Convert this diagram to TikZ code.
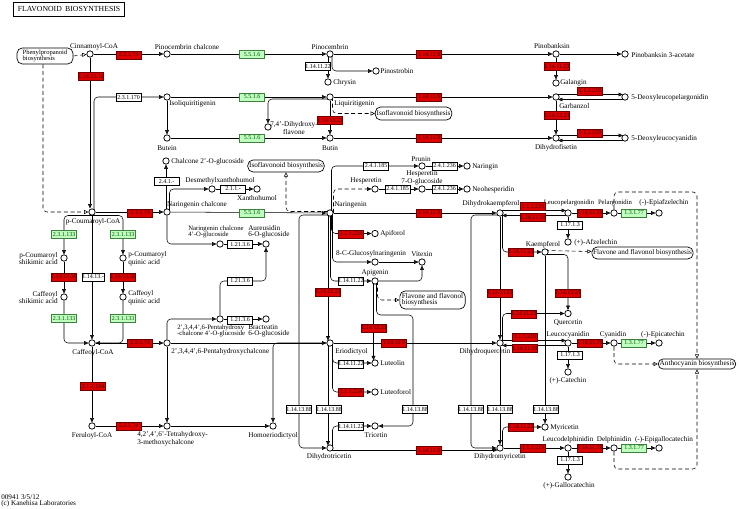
\documentclass[tikz,border=0pt]{standalone}
\usepackage{fontspec}
\setmainfont{Liberation Serif}
\usetikzlibrary{arrows.meta,calc,backgrounds}
\definecolor{kred}{RGB}{222,0,0}
\definecolor{kredd}{RGB}{110,0,0}
\definecolor{kredt}{RGB}{70,0,0}
\definecolor{kgreen}{RGB}{191,255,191}
\definecolor{kgreend}{RGB}{60,130,60}
\definecolor{kgreent}{RGB}{0,80,0}
\tikzset{
 cpd/.style={circle,draw,fill=white,minimum size=4.8pt,inner sep=0pt,line width=0.55pt},
 ec/.style={rectangle,draw,minimum width=18.5pt,minimum height=5.8pt,inner sep=0pt,font=\fontsize{4.5}{4.5}\selectfont,line width=0.45pt},
 ecr/.style={ec,fill=kred,draw=kredd,text=kredt},
 ecg/.style={ec,fill=kgreen,draw=kgreend,text=kgreent},
 ecw/.style={ec,fill=white},
 lbl/.style={inner sep=0pt,font=\fontsize{5.4}{4.6}\selectfont,align=center},
 sml/.style={font=\fontsize{5.0}{4.6}\selectfont},
 mapbox/.style={draw,rounded corners=4pt,fill=white,inner sep=1pt,font=\fontsize{5.4}{4.8}\selectfont,align=left,line width=0.5pt},
 arr/.style={-{Triangle[length=3.2pt,width=2.8pt]}},
 dsh/.style={dash pattern=on 3pt off 2pt},
 darr/.style={dsh,-{Triangle[open,length=3.2pt,width=3pt]}},
 rc/.style={rounded corners=3pt},
 conn/.style={line width=0.55pt,draw=black!85}
}
\begin{document}
\begin{tikzpicture}[x=0.75pt,y=-0.75pt]
\useasboundingbox (0,0) rectangle (739,509);
% title and footer
\node[draw,line width=0.6pt,inner sep=0pt,font=\fontsize{5.8}{5.8}\selectfont,minimum width=83pt,minimum height=11pt] (title) at (69,9.5) {FLAVONOID\hspace{2.5pt}BIOSYNTHESIS};
\node[lbl,anchor=north west,align=left] (foot) at (1,494) {00941 3/5/12\\(c) Kanehisa Laboratories};
% map boxes
\node[mapbox,minimum width=42pt,minimum height=12pt,font=\fontsize{4.9}{4.6}\selectfont] (phenyl) at (45,56) {Phenylpropanoid\\biosynthesis};
\node[mapbox,minimum width=56pt,minimum height=9.8pt] (iso1) at (413.5,113.5) {Isoflavonoid biosynthesis};
\node[mapbox,minimum width=57pt,minimum height=9pt] (iso2) at (286,166) {Isoflavonoid biosynthesis};
\node[mapbox,minimum width=49pt,minimum height=13.5pt] (flav1) at (432.5,300) {Flavone and flavonol\\biosynthesis};
\node[mapbox,minimum width=73pt,minimum height=9pt] (flav2) at (642.5,253) {Flavone and flavonol biosynthesis};
\node[mapbox,minimum width=58pt,minimum height=7.5pt,rounded corners=3.5pt] (antho) at (697,364) {Anthocyanin biosynthesis};
% compounds
\node[cpd] (cinn) at (90,54) {};
\node[cpd] (pinchal) at (167,54) {};
\node[cpd] (pinoc) at (330,54) {};
\node[cpd] (chrys) at (328,82) {};
\node[cpd] (pinost) at (376,71) {};
\node[cpd] (pinob) at (556,54) {};
\node[cpd] (pinoba) at (625,54) {};
\node[cpd] (galang) at (556,83) {};
\node[cpd] (isoliq) at (167,97) {};
\node[cpd] (liquir) at (330,97) {};
\node[cpd] (dihydroxyfl) at (268,127) {};
\node[cpd] (garb) at (556,97) {};
\node[cpd] (deoxyleucopel) at (625,97) {};
\node[cpd] (butein) at (167,138) {};
\node[cpd] (butin) at (330,138) {};
\node[cpd] (dihydrofis) at (556,138) {};
\node[cpd] (deoxyleucocy) at (625,138) {};
\node[cpd] (chalgluc) at (166,161) {};
\node[cpd] (prunin) at (422,166) {};
\node[cpd] (naringin) at (467,166) {};
\node[cpd] (desmeth) at (212,189) {};
\node[cpd] (xantho) at (257,189) {};
\node[cpd] (hesp) at (375,189) {};
\node[cpd] (hesp7) at (422,189) {};
\node[cpd] (neohesp) at (467,189) {};
\node[cpd] (pcoum) at (92,212) {};
\node[cpd] (narchal) at (167,212) {};
\node[cpd] (naring) at (330,213) {};
\node[cpd] (dhk) at (500,213) {};
\node[cpd] (leucopel) at (568,213) {};
\node[cpd] (pelarg) at (614,213) {};
\node[cpd] (epiafz) at (659,213) {};
\node[cpd] (afzel) at (568,242) {};
\node[cpd] (apiforol) at (375,233.5) {};
\node[cpd] (narchalglc) at (220,244) {};
\node[cpd] (aureus) at (266,244) {};
\node[cpd] (kaemp) at (545,252) {};
\node[cpd] (pcsa) at (64,258) {};
\node[cpd] (pcqa) at (123,258) {};
\node[cpd] (glucnar) at (375,262) {};
\node[cpd] (vitexin) at (422,262) {};
\node[cpd] (apigenin) at (375,281) {};
\node[cpd] (csa) at (64,297) {};
\node[cpd] (cqa) at (123,297) {};
\node[cpd] (quercetin) at (568,313.5) {};
\node[cpd] (pentagluc) at (220,319) {};
\node[cpd] (bract) at (266,319) {};
\node[cpd] (caffcoa) at (92,343) {};
\node[cpd] (penta) at (167,343) {};
\node[cpd] (eriod) at (330,343) {};
\node[cpd] (dhq) at (500,343) {};
\node[cpd] (leucocy) at (568,343) {};
\node[cpd] (cyan) at (614,343) {};
\node[cpd] (epicat) at (659,343) {};
\node[cpd] (luteolin) at (375,363) {};
\node[cpd] (catechin) at (568,372) {};
\node[cpd] (luteoforol) at (375,392) {};
\node[cpd] (ferul) at (92,426) {};
\node[cpd] (tetra) at (167,426) {};
\node[cpd] (homoer) at (273,426) {};
\node[cpd] (tricetin) at (375,426) {};
\node[cpd] (myric) at (545,427) {};
\node[cpd] (dht) at (330,448) {};
\node[cpd] (dhm) at (500,448) {};
\node[cpd] (leucodel) at (568,448) {};
\node[cpd] (delph) at (614,448) {};
\node[cpd] (epigallo) at (659,448) {};
\node[cpd] (gallocat) at (568,477) {};
% compound labels
\node[lbl] (lcinn) at (94,47) {Cinnamoyl-CoA};
\node[lbl] (lpinchal) at (187,47) {Pinocembrin chalcone};
\node[lbl] (lpinoc) at (330,47) {Pinocembrin};
\node[lbl,anchor=west] (lchrys) at (333,82.5) {Chrysin};
\node[lbl,anchor=west] (lpinost) at (380,71.5) {Pinostrobin};
\node[lbl] (lpinob) at (552,46.5) {Pinobanksin};
\node[lbl,anchor=west] (lpinoba) at (631,55) {Pinobanksin 3-acetate};
\node[lbl,anchor=west] (lgalang) at (560,82.5) {Galangin};
\node[lbl,anchor=west] (lisoliq) at (169,104) {Isoliquiritigenin};
\node[lbl,anchor=west] (lliquir) at (334,104) {Liquiritigenin};
\node[lbl] (ldihydroxyfl) at (294,128) {7,4'-Dihydroxy-\\flavone};
\node[lbl,anchor=west] (lgarb) at (559,106) {Garbanzol};
\node[lbl,anchor=west] (ldlp) at (631,97.5) {5-Deoxyleucopelargonidin};
\node[lbl] (lbutein) at (167,148) {Butein};
\node[lbl] (lbutin) at (330,148) {Butin};
\node[lbl] (ldihydrofis) at (556,148) {Dihydrofisetin};
\node[lbl,anchor=west] (ldlc) at (631,138.5) {5-Deoxyleucocyanidin};
\node[lbl,anchor=west] (lchalgluc) at (171,162) {Chalcone 2'-O-glucoside};
\node[lbl] (lprunin) at (421,159) {Prunin};
\node[lbl,anchor=west] (lnaringin) at (472,166.5) {Naringin};
\node[lbl] (ldesmeth) at (220,181) {Desmethylxanthohumol};
\node[lbl] (lxantho) at (257,198) {Xanthohumol};
\node[lbl] (lhesp) at (366,181) {Hesperetin};
\node[lbl] (lhesp7) at (422,177.5) {Hesperetin\\7-O-glucoside};
\node[lbl,anchor=west] (lneohesp) at (472,189.5) {Neohesperidin};
\node[lbl] (lpcoum) at (93,222) {p-Coumaroyl-CoA};
\node[lbl] (lnarchal) at (197,205) {Naringenin chalcone};
\node[lbl,anchor=west] (lnaring) at (334,204.5) {Naringenin};
\node[lbl] (ldhk) at (491,204) {Dihydrokaempferol};
\node[lbl,sml] (lleucopel) at (569,203) {Leucopelargonidin};
\node[lbl,sml] (lpelarg) at (615,203) {Pelargonidin};
\node[lbl] (lepiafz) at (664,203) {(-)-Epiafzelechin};
\node[lbl,anchor=west] (lafzel) at (574,242.5) {(+)-Afzelechin};
\node[lbl,anchor=west] (lapiforol) at (380,234) {Apiforol};
\node[lbl,sml,anchor=west,align=left] (lnarchalglc) at (188,232) {Naringenin chalcone\\4'-O-glucoside};
\node[lbl,anchor=west,align=left] (laureus) at (248,232) {Aureusidin\\6-O-glucoside};
\node[lbl] (lkaemp) at (543,245) {Kaempferol};
\node[lbl,anchor=east,align=right] (lpcsa) at (58,258.5) {p-Coumaroyl\\shikimic acid};
\node[lbl,anchor=west,align=left] (lpcqa) at (128,258.5) {p-Coumaroyl\\quinic acid};
\node[lbl] (lglucnar) at (371,254) {8-C-Glucosylnaringenin};
\node[lbl] (lvitexin) at (422,254) {Vitexin};
\node[lbl] (lapigenin) at (375,273) {Apigenin};
\node[lbl,anchor=east,align=right] (lcsa) at (58,297.5) {Caffeoyl\\shikimic acid};
\node[lbl,anchor=west,align=left] (lcqa) at (128,297.5) {Caffeoyl\\quinic acid};
\node[lbl] (lquercetin) at (568,322.5) {Quercetin};
\node[lbl,sml,anchor=west,align=left] (lpentagluc) at (177,331) {2',3,4,4',6-Pentahydroxy\\-chalcone 4'-O-glucoside};
\node[lbl,anchor=west,align=left] (lbract) at (248,331) {Bracteatin\\6-O-glucoside};
\node[lbl] (lcaffcoa) at (93,353) {Caffeoyl-CoA};
\node[lbl,anchor=west] (lpenta) at (171,352) {2',3,4,4',6-Pentahydroxychalcone};
\node[lbl,anchor=west] (leriod) at (335,352) {Eriodictyol};
\node[lbl] (ldhq) at (485,352) {Dihydroquercetin};
\node[lbl] (lleucocy) at (568,335) {Leucocyanidin};
\node[lbl] (lcyan) at (613,335) {Cyanidin};
\node[lbl] (lepicat) at (663,335) {(-)-Epicatechin};
\node[lbl,anchor=west] (lluteolin) at (380,363.5) {Luteolin};
\node[lbl] (lcatechin) at (568,381) {(+)-Catechin};
\node[lbl,anchor=west] (lluteoforol) at (380,392.5) {Luteoforol};
\node[lbl] (lferul) at (92,436) {Feruloyl-CoA};
\node[lbl,anchor=west,align=left] (ltetra) at (137,438.5) {4,2',4',6'-Tetrahydroxy-\\3-methoxychalcone};
\node[lbl] (lhomoer) at (273,435.5) {Homoeriodictyol};
\node[lbl] (ltricetin) at (376,435) {Tricetin};
\node[lbl,anchor=west] (lmyric) at (550,427.5) {Myricetin};
\node[lbl] (ldht) at (329,457) {Dihydrotricetin};
\node[lbl] (ldhm) at (500,457) {Dihydromyricetin};
\node[lbl] (lleucodel) at (568,440) {Leucodelphinidin};
\node[lbl] (ldelph) at (614,440) {Delphinidin};
\node[lbl] (lepigallo) at (664,440) {(-)-Epigallocatechin};
\node[lbl] (lgallocat) at (569,486) {(+)-Gallocatechin};
% enzymes
\node[ecr] (e1) at (128.5,55) {2.3.1.74};
\node[ecr] (e2) at (91,76.5) {1.14.13.11};
\node[ecw] (e3) at (128.5,97.5) {2.3.1.170};
\node[ecg] (e4) at (252,54.5) {5.5.1.6};
\node[ecg] (e5) at (252,97) {5.5.1.6};
\node[ecg] (e6) at (252,138) {5.5.1.6};
\node[ecw] (e7) at (318,66.5) {1.14.11.22};
\node[ecr] (e8) at (429,54.5) {1.14.11.9};
\node[ecr] (e9) at (429,97) {1.14.11.9};
\node[ecr] (e10) at (429,138) {1.14.11.9};
\node[ecr] (e11) at (557,66.5) {1.14.11.23};
\node[ecr] (e12) at (557,115.5) {1.14.13.21};
\node[ecr] (e13) at (590,91) {1.1.1.219};
\node[ecr] (e14) at (590,133) {1.1.1.219};
\node[ecr] (e15) at (330,120.5) {1.14.13.21};
\node[ecw] (e16) at (166.5,181.5) {2.4.1.-};
\node[ecw] (e17) at (233,189) {2.1.1.-};
\node[ecw] (e18) at (376,166) {2.4.1.185};
\node[ecw] (e19) at (444.5,166) {2.4.1.236};
\node[ecw] (e20) at (397.5,189) {2.4.1.185};
\node[ecw] (e21) at (444.5,189) {2.4.1.236};
\node[ecr] (e22) at (140,213) {2.3.1.74};
\node[ecg] (e23) at (252,213) {5.5.1.6};
\node[ecr] (e24) at (429,213) {1.14.11.9};
\node[ecr] (e25) at (533,206.5) {1.1.1.219};
\node[ecr] (e26) at (533,217.5) {1.14.11.19};
\node[ecr] (e27) at (590,213) {1.14.11.19};
\node[ecg] (e28) at (634,213) {1.3.1.77};
\node[ecw] (e29) at (570,225) {1.17.1.3};
\node[ecr] (e30) at (351,234) {1.1.1.234};
\node[ecw] (e31) at (240,244.5) {1.21.3.6};
\node[ecr] (e32) at (521,252) {1.14.11.23};
\node[ecw] (e33) at (351,281) {1.14.11.22};
\node[ecw] (e34) at (240,281) {1.21.3.6};
\node[ecr] (e35) at (328,292) {1.14.13.21};
\node[ecr] (e36) at (500,293) {1.14.13.21};
\node[ecr] (e37) at (568,293) {1.14.13.21};
\node[ecr] (e38) at (524,314) {1.14.11.23};
\node[ecw] (e39) at (240,320) {1.21.3.6};
\node[ecr] (e40) at (374,328) {1.14.13.21};
\node[ecr] (e41) at (140,343) {2.3.1.74};
\node[ecr] (e42) at (394,343) {1.14.11.9};
\node[ecr] (e43) at (525,337) {1.1.1.219};
\node[ecr] (e44) at (525,348.5) {1.14.11.19};
\node[ecr] (e45) at (590,343) {1.14.11.19};
\node[ecg] (e46) at (634,343) {1.3.1.77};
\node[ecw] (e47) at (570,355) {1.17.1.3};
\node[ecw] (e48) at (351,364) {1.14.11.22};
\node[ecr] (e49) at (93,386.5) {2.1.1.104};
\node[ecr] (e50) at (351,392) {1.1.1.234};
\node[ecw] (e51) at (299,409.5) {1.14.13.88};
\node[ecw] (e52) at (329,409.5) {1.14.13.88};
\node[ecw] (e53) at (415,409.5) {1.14.13.88};
\node[ecw] (e54) at (471,409.5) {1.14.13.88};
\node[ecw] (e55) at (500,409.5) {1.14.13.88};
\node[ecw] (e56) at (546,409.5) {1.14.13.88};
\node[ecr] (e57) at (128.5,426) {2.3.1.74};
\node[ecw] (e58) at (351,426.5) {1.14.11.22};
\node[ecr] (e59) at (521,427) {1.14.11.23};
\node[ecr] (e60) at (429,450.5) {1.14.11.9};
\node[ecr] (e61) at (533,448) {1.1.1.219};
\node[ecr] (e62) at (590,448) {1.14.11.19};
\node[ecg] (e63) at (634,448) {1.3.1.77};
\node[ecw] (e64) at (570,460) {1.17.1.3};
\node[ecg] (e65) at (64,234.5) {2.3.1.133};
\node[ecr] (e66) at (64,277) {1.14.13.36};
\node[ecg] (e67) at (64,318.5) {2.3.1.133};
\node[ecg] (e68) at (123,234.5) {2.3.1.133};
\node[ecr] (e69) at (123,277) {1.14.13.36};
\node[ecg] (e70) at (123,318.5) {2.3.1.133};
\node[ecw,minimum width=16.5pt] (e71) at (93,277) {1.14.13.-};
% connectors
\begin{scope}[on background layer,conn]
\coordinate (pcl) at (92,215.5);
\coordinate (apt) at (413,315);
\coordinate (pa) at (697,192);
\coordinate (da) at (697,469);
\draw[darr] (phenyl.east) -- (cinn);
\draw[darr,rc] ([xshift=-1.5pt]phenyl.south) |- (pcoum);
\draw[arr] (cinn) -- (pinchal);
\draw[arr] (cinn) -- (cinn |- pcoum.north);
\draw[arr,rc] ($(pcoum)+(2,0)$) |- (isoliq);
\draw[arr] (pinchal) -- (pinoc);
\draw[arr] (pinoc) -- (pinob);
\draw[arr] (pinob) -- (pinoba);
\draw[arr] (pinob) -- (galang);
\draw[arr] ($(pinoc)+(-2,0)$) -- (chrys);
\draw[arr,rc] ($(pinoc)+(2,0)$) |- (pinost);
\draw[arr] (isoliq) -- (liquir);
\draw[arr] (isoliq) -- (butein);
\draw[arr] (butein) -- (butin);
\draw[arr] (liquir) -- (butin);
\draw[arr] (liquir) -- (garb);
\draw[arr] (butin) -- (dihydrofis);
\draw[arr] (garb) -- (dihydrofis);
\draw[arr] ($(garb)+(0,-2.5)$) -- ($(deoxyleucopel)+(-2.2,-2.5)$);
\draw[arr] ($(deoxyleucopel)+(0,2.5)$) -- ($(garb)+(2.2,2.5)$);
\draw[arr] ($(dihydrofis)+(0,-2.5)$) -- ($(deoxyleucocy)+(-2.2,-2.5)$);
\draw[arr] ($(deoxyleucocy)+(0,2.5)$) -- ($(dihydrofis)+(2.2,2.5)$);
\draw[arr,rc] ($(liquir)+(0,2)$) -| (dihydroxyfl);
\draw[darr,rc] ($(liquir)+(2.5,0)$) |- (iso1);
\draw[arr] (pcoum) -- (narchal);
\draw[arr] (narchal) -- (naring);
\draw[arr] ($(narchal)+(-1,0)$) -- (chalgluc);
\draw[arr,rc] ($(narchal)+(2.5,0)$) |- (desmeth);
\draw[arr] (desmeth) -- (xantho);
\draw[arr,rc] (narchal) |- (narchalglc);
\draw[arr] (narchalglc) -- (aureus);
\draw[arr,rc] (pentagluc) |- (e34) -| (aureus);
\draw[arr,rc] (penta) |- (pentagluc);
\draw[arr] (pentagluc) -- (bract);
\draw[arr,rc] (pcl) -| (pcsa);
\draw[arr] (pcsa) -- (csa);
\draw[arr,rc] (csa) |- (caffcoa);
\draw[arr,rc] (pcl) -| (pcqa);
\draw[arr] (pcqa) -- (cqa);
\draw[arr,rc] (cqa) |- (caffcoa);
\draw[arr] (pcoum) -- (caffcoa);
\draw[arr] (caffcoa) -- (penta);
\draw[arr] (caffcoa) -- (ferul);
\draw[arr] (ferul) -- (tetra);
\draw[arr] (penta) -- (tetra);
\draw[arr] (tetra) -- (homoer);
\draw[arr] (penta) -- (eriod);
\draw[arr,rc] (eriod) -| (homoer);
\draw[darr,rc] ($(naring)+(-2,-1.5)$) -| (iso2);
\draw[arr,rc] ($(naring)+(1.5,0)$) |- (prunin);
\draw[arr] (prunin) -- (naringin);
\draw[dsh,arr,rc] ($(naring)+(3.5,0)$) |- (hesp);
\draw[arr] (hesp) -- (hesp7);
\draw[arr] (hesp7) -- (neohesp);
\draw[arr] (naring) -- (dhk);
\draw[arr,rc] ($(naring)+(1.5,0)$) |- (apiforol);
\draw[arr,rc] ($(naring)+(2.5,0)$) |- (glucnar);
\draw[arr,rc] ($(naring)+(0.5,0)$) |- (apigenin);
\draw[arr] ($(naring)+(-2,0)$) -- ($(eriod)+(-2,-2.5)$);
\draw[arr,rc] ($(naring)+(-2,2)$) -| (e51) |- (dht);
\draw[arr] ($(eriod)+(-2,0)$) -- ($(dht)+(-2,-2.5)$);
\draw[arr] (glucnar) -- (vitexin);
\draw[arr,rc] (apigenin) -| (vitexin);
\draw[darr,rc] ($(apigenin)+(2.5,0)$) |- (flav1);
\draw[arr] ($(apigenin)+(-1.5,0)$) -- ($(luteolin)+(-1.5,-2.8)$);
\draw[arr,rc] ($(apigenin)+(1.5,0)$) |- (apt) |- (tricetin);
\draw[arr,rc] ($(eriod)+(2.5,0)$) |- (luteolin);
\draw[arr,rc] ($(eriod)+(2.5,0)$) |- (luteoforol);
\draw[arr] (eriod) -- (dhq);
\draw[arr,rc] ($(dht)+(2.5,0)$) |- (tricetin);
\draw[arr] ($(dht)+(0,2)$) -- ($(dhm)+(-2.5,2)$);
\draw[arr] ($(dhk)+(0,-2.5)$) -- ($(leucopel)+(-2.2,-2.5)$);
\draw[arr] ($(leucopel)+(0,2.5)$) -- ($(dhk)+(2.2,2.5)$);
\draw[arr] (leucopel) -- (pelarg);
\draw[arr] (pelarg) -- (epiafz);
\draw[arr] (leucopel) -- (afzel);
\draw[arr,rc] ($(dhk)+(2.5,0)$) |- (kaemp);
\draw[arr] (dhk) -- (dhq);
\draw[arr,rc] ($(dhk)+(-2,2)$) -| (e54) |- (dhm);
\draw[arr] (dhq) -- (dhm);
\draw[arr,rc] ($(dhq)+(2.5,0)$) |- (quercetin);
\draw[arr,rc] ($(kaemp)+(0,2.5)$) -| (quercetin);
\draw[darr] ($(kaemp)+(0,-1.5)$) -- ($(flav2.west)+(0,-1.5)$);
\draw[arr] (kaemp) -- (myric);
\draw[arr,rc] ($(dhm)+(2.5,0)$) |- (myric);
\draw[arr] ($(dhq)+(0,-2.5)$) -- ($(leucocy)+(-2.2,-2.5)$);
\draw[arr] ($(leucocy)+(0,2.5)$) -- ($(dhq)+(2.2,2.5)$);
\draw[arr] (leucocy) -- (cyan);
\draw[arr] (cyan) -- (epicat);
\draw[arr] (leucocy) -- (catechin);
\draw[arr] (dhm) -- (leucodel);
\draw[arr] (leucodel) -- (delph);
\draw[arr] (delph) -- (epigallo);
\draw[arr] (leucodel) -- (gallocat);
\draw[darr,rc] (pelarg) |- (pa) -- (antho);
\draw[darr,rc] (cyan) |- (antho);
\draw[darr,rc] (delph) |- (da) -- (antho);
\end{scope}
\end{tikzpicture}
\end{document}
